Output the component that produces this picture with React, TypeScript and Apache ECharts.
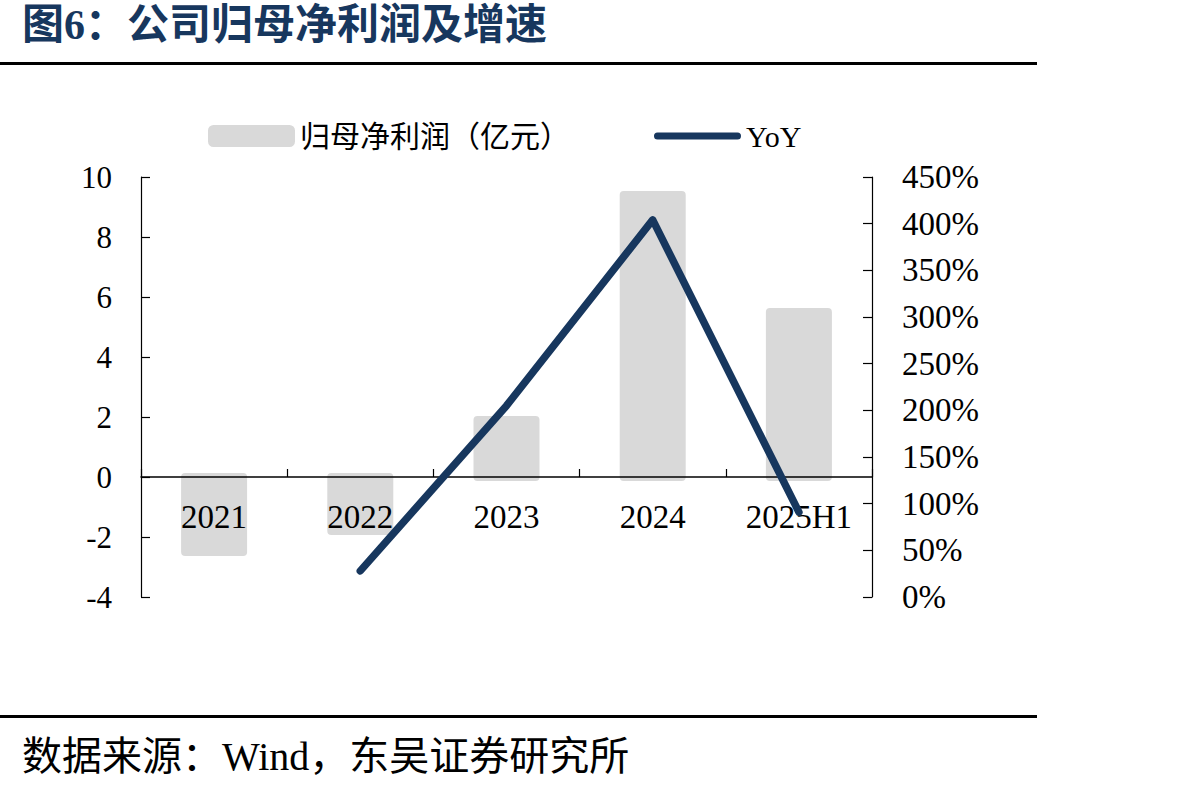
import React, { useEffect, useRef } from "react";
import * as echarts from "echarts";

// ---- data ----
const categories = ["2021", "2022", "2023", "2024", "2025H1"];
const netProfit = [-2.5, -1.8, 1.9, 9.4, 5.5]; // 归母净利润（亿元）
const yoy = [null, 28, 205, 404, 91]; // YoY (%)
const leftAxisRange = [-4, 10, 2]; // min, max, interval
const rightAxisRange = [0, 450, 50];

const titleText = "图6：公司归母净利润及增速";
const sourceText = "数据来源：Wind，东吴证券研究所";
const barName = "归母净利润（亿元）";
const lineName = "YoY";

const SERIF = '"Liberation Serif", "Times New Roman", "Noto Sans CJK SC", serif';
const NAVY = "#17375e";
const GRAY = "#d9d9d9";

export default function App() {
  const ref = useRef<HTMLDivElement>(null);

  useEffect(() => {
    if (!ref.current) return;
    const chart = echarts.init(ref.current, undefined, { renderer: "svg" });
    const option: any = {
      animation: false,
      backgroundColor: "#ffffff",
      textStyle: { fontFamily: SERIF, color: "#000" },
      graphic: [
        {
          type: "text",
          left: 22,
          top: 4,
          style: {
            text: titleText,
            fontFamily: SERIF,
            fontWeight: "bold",
            fontSize: 42,
            fill: NAVY,
          },
        },
        { type: "rect", left: 0, top: 62, shape: { width: 1037, height: 3 }, style: { fill: "#000" } },
        { type: "rect", left: 0, top: 715, shape: { width: 1037, height: 3 }, style: { fill: "#000" } },
        {
          type: "text",
          left: 22,
          top: 736,
          style: {
            text: sourceText,
            fontFamily: SERIF,
            fontSize: 40,
            fill: "#000",
          },
        },
      ],
      legend: {
        left: 208,
        top: 121,
        padding: 0,
        itemWidth: 87,
        itemHeight: 22,
        itemGap: 84,
        itemStyle: { borderWidth: 0 },
        textStyle: { fontFamily: SERIF, fontSize: 30, color: "#000" },
        data: [
          { name: barName, icon: "roundRect" },
          { name: lineName, icon: "path://M3.5,0 H83.5 A3.5,3.5 0 0 1 83.5,7 H3.5 A3.5,3.5 0 0 1 3.5,0 Z" },
        ],
      },
      grid: { left: 141, right: 320, top: 177, bottom: 194, containLabel: false },
      xAxis: {
        type: "category",
        data: categories,
        z: 5,
        axisLine: { onZero: true, onZeroAxisIndex: 0, lineStyle: { color: "#000", width: 1.5 } },
        axisTick: { show: true, inside: true, length: 8, lineStyle: { color: "#000", width: 1.2 } },
        axisLabel: { fontFamily: SERIF, fontSize: 33, color: "#000", margin: -97 },
        splitLine: { show: false },
      },
      yAxis: [
        {
          type: "value",
          min: leftAxisRange[0],
          max: leftAxisRange[1],
          interval: leftAxisRange[2],
          axisLine: { show: true, onZero: false, lineStyle: { color: "#000", width: 1.2 } },
          axisTick: { show: true, inside: true, length: 9, lineStyle: { color: "#000", width: 1.2 } },
          axisLabel: { fontFamily: SERIF, fontSize: 31, color: "#000", margin: 29 },
          splitLine: { show: false },
        },
        {
          type: "value",
          position: "right",
          min: rightAxisRange[0],
          max: rightAxisRange[1],
          interval: rightAxisRange[2],
          axisLine: { show: true, onZero: false, lineStyle: { color: "#000", width: 1.2 } },
          axisTick: { show: true, inside: true, length: 9, lineStyle: { color: "#000", width: 1.2 } },
          axisLabel: { fontFamily: SERIF, fontSize: 33, color: "#000", margin: 30, formatter: "{value}%" },
          splitLine: { show: false },
        },
      ],
      series: [
        {
          name: barName,
          type: "custom",
          coordinateSystem: "cartesian2d",
          xAxisIndex: 0,
          yAxisIndex: 0,
          z: 1,
          itemStyle: { color: GRAY },
          encode: { x: 0, y: 1 },
          data: netProfit.map((v, i) => [i, v]),
          renderItem: (params: any, api: any) => {
            const idx = api.value(0);
            const val = api.value(1);
            const p0 = api.coord([idx, 0]);
            const p1 = api.coord([idx, val]);
            const half = 33;
            const pad = 4;
            const top = Math.min(p0[1], p1[1]) - pad;
            const h = Math.abs(p1[1] - p0[1]) + pad * 2;
            return {
              type: "rect",
              shape: { x: p0[0] - half, y: top, width: half * 2, height: h, r: 4 },
              style: { fill: GRAY },
            };
          },
        },
        {
          name: lineName,
          type: "line",
          data: yoy,
          yAxisIndex: 1,
          z: 10,
          symbol: "none",
          lineStyle: { color: NAVY, width: 7.5, cap: "round", join: "round" },
          itemStyle: { color: NAVY },
        },
      ],
    };
    chart.setOption(option);
    return () => chart.dispose();
  }, []);

  return (
    <div
      ref={ref}
      style={{ position: "fixed", left: 0, top: 0, width: 1192, height: 791, background: "#fff" }}
    />
  );
}
